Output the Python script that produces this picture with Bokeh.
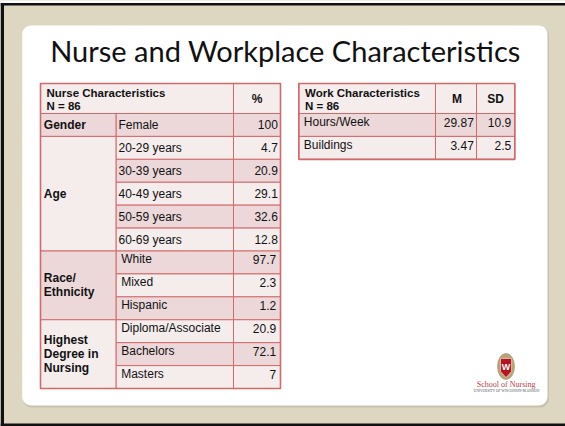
import numpy as np
from bokeh.plotting import figure
from bokeh.models import Range1d
from bokeh.core.properties import value
from bokeh.embed import file_html
from bokeh.resources import INLINE

# ---------------- data ----------------
title = "Nurse and Workplace Characteristics"

nurse_header = ["Nurse Characteristics", "N = 86"]
pct_header = "%"
nurse_categories = ["Gender", "Age", "Race/\nEthnicity", "Highest\nDegree in\nNursing"]
category_sizes = [1, 5, 3, 3]
nurse_items = ["Female", "20-29 years", "30-39 years", "40-49 years", "50-59 years",
               "60-69 years", "White", "Mixed", "Hispanic", "Diploma/Associate",
               "Bachelors", "Masters"]
nurse_pct = ["100", "4.7", "20.9", "29.1", "32.6", "12.8", "97.7", "2.3", "1.2",
             "20.9", "72.1", "7"]

work_header = ["Work Characteristics", "N = 86"]
work_cols = ["M", "SD"]
work_items = ["Hours/Week", "Buildings"]
work_mean = ["29.87", "3.47"]
work_sd = ["10.9", "2.5"]

logo_name = "School of Nursing"
logo_sub = "UNIVERSITY OF WISCONSIN-MADISON"

# ---------------- styles ----------------
BEIGE = "#DDD6C0"
LIGHT = "#F5ECEC"
DARK = "#ECD8D9"
BORDER = "#D26A6C"
FONT = value("Liberation Sans")
TXT = "#111111"

p = figure(width=565, height=426, output_backend="svg", toolbar_location=None,
           x_range=Range1d(0, 565), y_range=Range1d(426, 0),
           min_border=0, background_fill_color=BEIGE, border_fill_color=BEIGE)
p.axis.visible = False
p.grid.visible = False
p.outline_line_color = None


def rrect(x0, y0, x1, y1, r, n=10):
    xs, ys = [], []
    for cx, cy, a0 in [(x1 - r, y0 + r, -90), (x1 - r, y1 - r, 0),
                       (x0 + r, y1 - r, 90), (x0 + r, y0 + r, 180)]:
        a = np.radians(np.linspace(a0, a0 + 90, n))
        xs += list(cx + r * np.cos(a))
        ys += list(cy + r * np.sin(a))
    return xs, ys


# slide frame
p.quad(left=[0, 0, 0], right=[565, 565, 565], top=[0, 426, 2.5], bottom=[3, 423, 5],
       fill_color=["white", "#111111", "#111111"], line_color=None)
p.quad(left=[0], right=[3.5], top=[3], bottom=[426], fill_color="#111111", line_color=None)

# card shadow + card
sx, sy = rrect(22.5, 26.5, 548.5, 407, 9)
p.patch(sx, sy, fill_color="#BDB8A8", line_color=None, alpha=0.7)
cx, cy = rrect(21.7, 25, 547, 405, 9)
p.patch(cx, cy, fill_color="white", line_color=None)

# title
p.text(x=[285], y=[50], text=[title], text_font=value("Lato"), text_font_size="29px",
       text_align="center", text_baseline="middle", text_color=TXT)

# ---------------- left table ----------------
L0, L1, L2, L3 = 40, 115.7, 233, 280
TOP, HDR = 83, 113
ROW = (388 - HDR) / len(nurse_items)
row_top = [HDR + i * ROW for i in range(len(nurse_items))]
row_bot = [t + ROW for t in row_top]

p.quad(left=[L0, L2], right=[L2, L3], top=[TOP, TOP], bottom=[HDR, HDR],
       fill_color=LIGHT, line_color=BORDER, line_width=1)

cat_top, cat_bot, k = [], [], 0
for s in category_sizes:
    cat_top.append(row_top[k])
    cat_bot.append(row_bot[k + s - 1])
    k += s
cat_fill = [DARK if j % 2 == 0 else LIGHT for j in range(len(nurse_categories))]
p.quad(left=[L0] * len(cat_top), right=[L1] * len(cat_top), top=cat_top, bottom=cat_bot,
       fill_color=cat_fill, line_color=BORDER, line_width=1)

item_fill = [DARK if i % 2 == 0 else LIGHT for i in range(len(nurse_items))]
n = len(nurse_items)
p.quad(left=[L1] * n, right=[L2] * n, top=row_top, bottom=row_bot,
       fill_color=item_fill, line_color=BORDER, line_width=1)
p.quad(left=[L2] * n, right=[L3] * n, top=row_top, bottom=row_bot,
       fill_color=item_fill, line_color=BORDER, line_width=1)
p.quad(left=[L0], right=[L3], top=[TOP], bottom=[388], fill_color=None,
       line_color=BORDER, line_width=1.6)

p.text(x=[46, 46], y=[92.7, 105], text=nurse_header, text_font=FONT,
       text_font_size="11.5px", text_font_style="bold", text_baseline="middle",
       text_color=TXT)
p.text(x=[(L2 + L3) / 2], y=[98.5], text=[pct_header], text_font=FONT,
       text_font_size="12px", text_font_style="bold", text_align="center",
       text_baseline="middle", text_color=TXT)

cx_, cy_, ct_ = [], [], []
for j, lab in enumerate(nurse_categories):
    lines = lab.split("\n")
    mid = (cat_top[j] + cat_bot[j]) / 2
    for li, ln in enumerate(lines):
        cx_.append(43.3)
        cy_.append(mid + (li - (len(lines) - 1) / 2) * 14)
        ct_.append(ln)
p.text(x=cx_, y=cy_, text=ct_, text_font=FONT, text_font_size="12px",
       text_font_style="bold", text_baseline="middle", text_color=TXT)

first_group = category_sizes[0] + category_sizes[1]
ix, iy, vx = [], [], []
for i in range(n):
    mid = (row_top[i] + row_bot[i]) / 2
    if i < first_group:
        ix.append(L1 + 2.3)
        vx.append(L3 - 2.7)
        iy.append(mid)
    else:
        ix.append(L1 + 5)
        vx.append(L3 - 4.3)
        iy.append(mid - 3)
p.text(x=ix, y=iy, text=nurse_items, text_font=FONT, text_font_size="12px",
       text_baseline="middle", text_color=TXT)
p.text(x=vx, y=iy, text=nurse_pct, text_font=FONT, text_font_size="12px",
       text_align="right", text_baseline="middle", text_color=TXT)

# ---------------- right table ----------------
R0, R1, R2, R3 = 298.3, 435, 476, 514.3
m = len(work_items)
w_top = row_top[:m]
w_bot = row_bot[:m]
p.quad(left=[R0, R1, R2], right=[R1, R2, R3], top=[TOP] * 3, bottom=[HDR] * 3,
       fill_color=LIGHT, line_color=BORDER, line_width=1)
w_fill = [DARK if i % 2 == 0 else LIGHT for i in range(m)]
for a, b in [(R0, R1), (R1, R2), (R2, R3)]:
    p.quad(left=[a] * m, right=[b] * m, top=w_top, bottom=w_bot,
           fill_color=w_fill, line_color=BORDER, line_width=1)
p.quad(left=[R0], right=[R3], top=[TOP], bottom=[w_bot[-1]], fill_color=None,
       line_color=BORDER, line_width=1.6)

p.text(x=[304.5, 304.5], y=[92.7, 105], text=work_header, text_font=FONT,
       text_font_size="11.5px", text_font_style="bold", text_baseline="middle",
       text_color=TXT)
p.text(x=[(R1 + R2) / 2 + 1, (R2 + R3) / 2], y=[98.5, 98.5], text=work_cols,
       text_font=FONT, text_font_size="12px", text_font_style="bold",
       text_align="center", text_baseline="middle", text_color=TXT)
wy = [(w_top[i] + w_bot[i]) / 2 - 2.8 for i in range(m)]
p.text(x=[R0 + 5] * m, y=wy, text=work_items, text_font=FONT, text_font_size="12px",
       text_baseline="middle", text_color=TXT)
p.text(x=[R2 - 2.7] * m, y=wy, text=work_mean, text_font=FONT, text_font_size="12px",
       text_align="right", text_baseline="middle", text_color=TXT)
p.text(x=[R3 - 3.6] * m, y=wy, text=work_sd, text_font=FONT, text_font_size="12px",
       text_align="right", text_baseline="middle", text_color=TXT)

# ---------------- logo ----------------
p.ellipse(x=[505.5], y=[366], width=[17], height=[26], fill_color="#B9A57A",
          line_color="#9C8A5E", line_width=0.6)
shx = [500, 511, 511, 505.5, 500]
shy = [358, 358, 371, 377, 371]
p.patch(shx, shy, fill_color="#B8141E", line_color="#F2E8E0", line_width=0.6)
p.text(x=[505.5], y=[366.5], text=["W"], text_font=FONT, text_font_size="9px",
       text_font_style="bold", text_align="center", text_baseline="middle",
       text_color="white")
p.text(x=[505.7], y=[384.3], text=[logo_name], text_font=value("Liberation Serif"),
       text_font_size="8px", text_align="center", text_baseline="middle",
       text_color="#C23A45")
p.text(x=[506], y=[390.7], text=[logo_sub], text_font=value("Liberation Serif"),
       text_font_size="3.6px", text_align="center", text_baseline="middle",
       text_color="#555555")

open("out.html", "w").write(file_html(p, INLINE))
